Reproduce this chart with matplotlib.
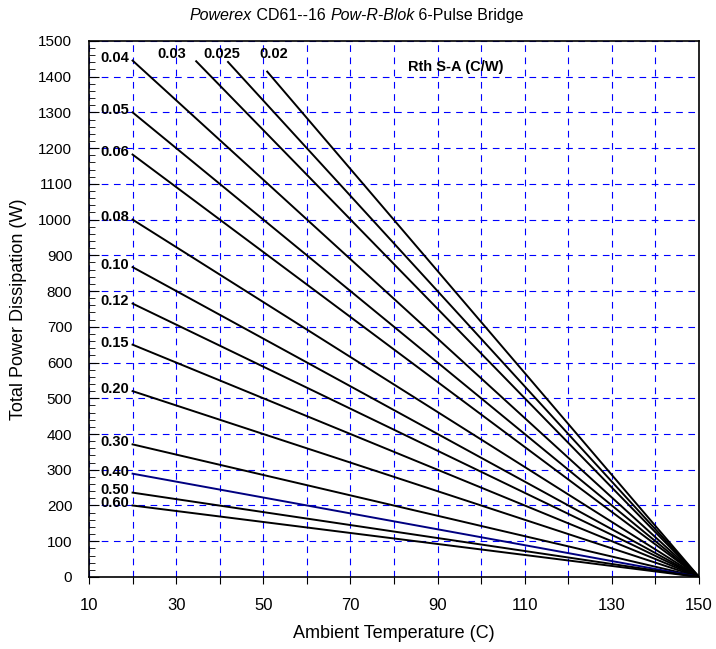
import matplotlib.pyplot as plt
from matplotlib.ticker import MultipleLocator

plt.rcParams['font.family'] = ['Liberation Sans', 'DejaVu Sans']

# Heatsink thermal resistance of each curve, and the point where each line starts.
rth_labels = ['0.04', '0.05', '0.06', '0.08', '0.10', '0.12', '0.15',
              '0.20', '0.30', '0.40', '0.50', '0.60']
start_temp = [20, 20, 20, 20, 20, 20, 20, 20, 20, 20, 20, 20]
start_power = [1445, 1300, 1182, 1000, 867, 765, 650, 520, 371, 289, 236, 200]

# Curves clipped at the top of the chart.
top_labels = ['0.03', '0.025', '0.02']
top_start_temp = [34.6, 41.9, 50.9]
top_start_power = [1443, 1441, 1414]
top_label_temp = [29, 40.5, 52.5]

end_temp = 150
end_power = 0

fig = plt.figure(figsize=(7.16, 6.49), dpi=100)
ax = fig.add_axes([0.1243, 0.111, 0.852, 0.826])

for lab, t0, p0 in zip(rth_labels, start_temp, start_power):
    color = '#000080' if lab == '0.40' else 'black'
    ax.plot([t0, end_temp], [p0, end_power], color=color, lw=1.4, zorder=3)
    ax.text(t0 - 0.8, p0 + 6, lab, ha='right', va='center',
            fontsize=10.5, fontweight='bold', zorder=4)

for lab, t0, p0, tl in zip(top_labels, top_start_temp, top_start_power, top_label_temp):
    ax.plot([t0, end_temp], [p0, end_power], color='black', lw=1.4, zorder=3)
    ax.text(tl, 1462, lab, ha='center', va='center',
            fontsize=10.5, fontweight='bold', zorder=4)

ax.text(94.2, 1427, 'Rth S-A (C/W)', ha='center', va='center',
        fontsize=10.5, fontweight='bold')

ax.set_xlim(10, 150)
ax.set_ylim(0, 1500)

# Ticks and grid
ax.set_xticks(range(10, 151, 10))
ax.set_xticklabels([str(v) if (v - 10) % 20 == 0 else '' for v in range(10, 151, 10)])
ax.yaxis.set_major_locator(MultipleLocator(100))
ax.yaxis.set_minor_locator(MultipleLocator(20))
ax.tick_params(axis='x', direction='out', length=5, pad=10, labelsize=12)
ax.tick_params(axis='y', which='major', direction='in', length=7, pad=12, labelsize=11)
ax.tick_params(axis='y', which='minor', direction='in', length=4)
ax.grid(True, which='major', color='#0000ff', linestyle=(0, (6, 5)), lw=0.8)

for s in ax.spines.values():
    s.set_linewidth(1.2)

ax.set_xlabel('Ambient Temperature (C)', fontsize=13, labelpad=9)
ax.set_ylabel('Total Power Dissipation (W)', fontsize=13, labelpad=8)

# Title with italic parts, chained piece by piece.
pieces = [('Powerex', 'italic'), (' CD61--16 ', 'normal'),
          ('Pow-R-Blok', 'italic'), (' 6-Pulse Bridge', 'normal')]
prev = fig.text(0.265, 0.965, pieces[0][0], fontstyle=pieces[0][1],
                fontsize=11.5, va='bottom', ha='left')
for txt, style in pieces[1:]:
    prev = ax.annotate(txt, xy=(1, 0), xycoords=prev, va='bottom', ha='left',
                       fontstyle=style, fontsize=11.5)

fig.savefig('out.png', dpi=100)
